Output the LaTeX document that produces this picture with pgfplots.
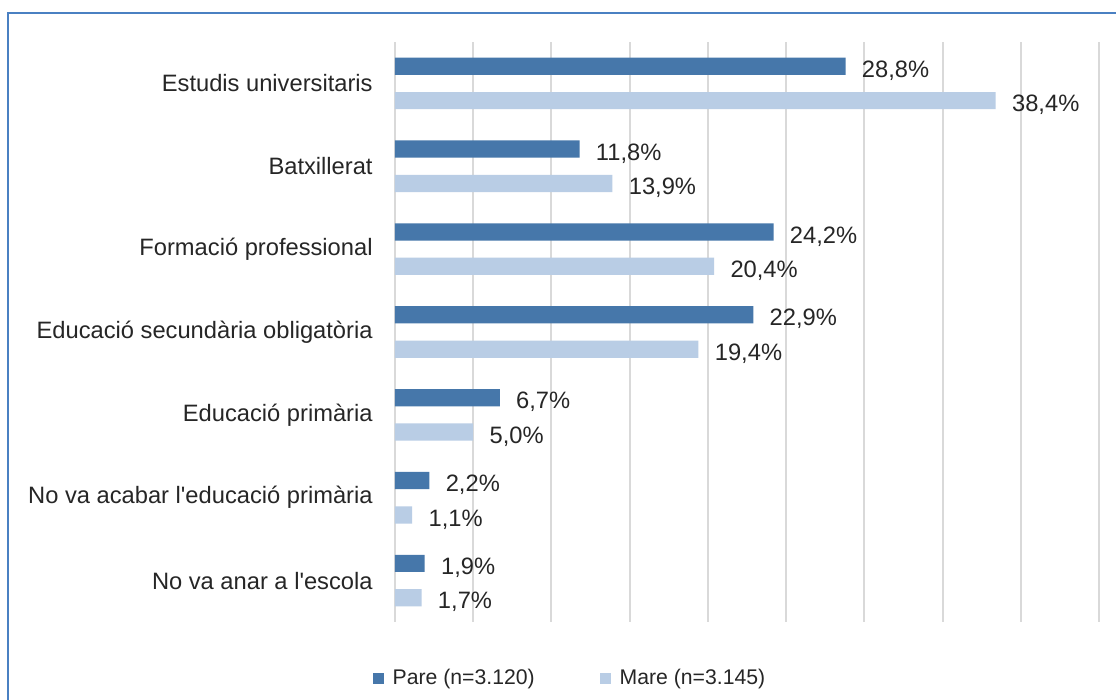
\documentclass[border=0pt]{standalone}
\usepackage{pgfplots}
\pgfplotsset{compat=1.18}
\usepackage{fontspec}
\setmainfont{Liberation Sans}[Ligatures=TeXOff]
\definecolor{pare}{HTML}{4677AA}
\definecolor{mare}{HTML}{B9CDE5}
\definecolor{frame}{HTML}{4A80C2}
\definecolor{gridc}{HTML}{D9D9D9}
\definecolor{txt}{HTML}{262626}
\begin{document}
\fontsize{11.85}{14}\selectfont
\begin{tikzpicture}
\useasboundingbox (0pt,0pt) rectangle (558pt,-350pt);
\fill[white] (0pt,0pt) rectangle (558pt,-350pt);
\draw[frame, line width=1pt] (3.75pt,-360pt) -- (3.75pt,-6.75pt) -- (570pt,-6.75pt);
\begin{axis}[
  at={(197.5pt,-311pt)}, anchor=south west,
  width=352pt, height=290pt, scale only axis,
  xbar, bar width=8.6pt,
  xmin=0, xmax=45, ymin=-0.5, ymax=6.5,
  xtick={0,5,...,45}, xticklabels={},
  xmajorgrids, grid style={gridc, line width=1pt},
  axis line style={draw=none},
  major tick length=0pt,
  ytick={0,1,2,3,4,5,6},
  yticklabels={No va anar a l'escola, No va acabar l'educació primària, Educació primària, Educació secundària obligatòria, Formació professional, Batxillerat, Estudis universitaris},
  yticklabel style={font=\fontsize{11.85}{14}\selectfont, text=txt, anchor=east, inner sep=0pt, xshift=-11pt},
  nodes near coords={\pgfmathprintnumber[use comma, fixed, fixed zerofill, precision=1, assume math mode=true]{\pgfplotspointmeta}\%},
  every node near coord/.append style={font=\fontsize{11.85}{14}\selectfont, text=txt, anchor=west, inner sep=0pt, xshift=8pt, yshift=-2.2pt},
  point meta=explicit,
  legend style={at={(0.25,-0.097)}, anchor=center, draw=none, fill=none, legend columns=2,
    font=\fontsize{10.6}{13}\selectfont, text=txt,
    /tikz/every even column/.append style={column sep=30.5pt},
    legend cell align=left},
  legend image code/.code={\fill[#1] (0pt,-2.75pt) rectangle (5.5pt,2.75pt); \path (8pt,0pt);},
]
\addplot[fill=pare, draw=none, bar shift=8.6pt] coordinates {
 (1.9,0) [1.9] (2.2,1) [2.2] (6.7,2) [6.7] (22.9,3) [22.9] (24.2,4) [24.2] (11.8,5) [11.8] (28.8,6) [28.8]};
\addlegendentry{Pare (n=3.120)}
\addplot[fill=mare, draw=none, bar shift=-8.6pt] coordinates {
 (1.7,0) [1.7] (1.1,1) [1.1] (5.0,2) [5.0] (19.4,3) [19.4] (20.4,4) [20.4] (13.9,5) [13.9] (38.4,6) [38.4]};
\addlegendentry{Mare (n=3.145)}
\end{axis}
\end{tikzpicture}
\end{document}
